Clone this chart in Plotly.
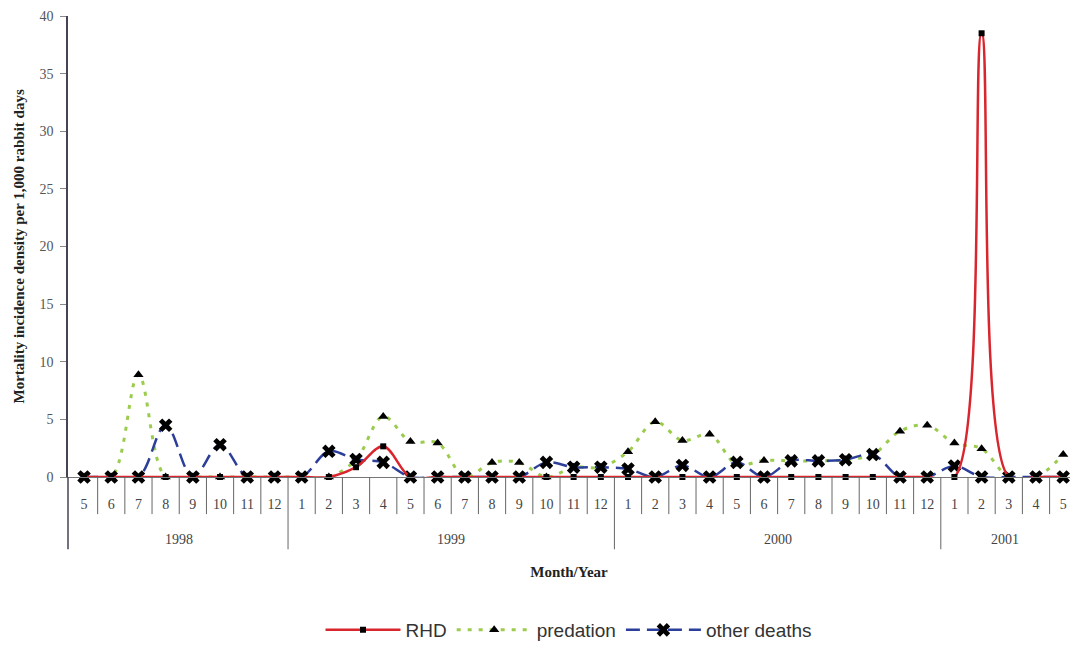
import plotly.graph_objects as go

years = ["1998"] * 8 + ["1999"] * 12 + ["2000"] * 12 + ["2001"] * 5
months = [str(m) for m in range(5, 13)] + [str(m) for m in range(1, 13)] * 2 + [str(m) for m in range(1, 6)]

rhd = [0, 0, 0, 0, 0, 0, 0, 0,
       0, 0, 0.85, 2.66, 0, 0, 0, 0, 0, 0, 0, 0,
       0, 0, 0, 0, 0, 0, 0, 0, 0, 0, 0, 0,
       0, 38.5, 0, 0, 0]
predation = [0, 0, 8.87, 0, 0, 0, 0, 0,
             0, 0, 1.5, 5.25, 3.08, 2.96, 0, 1.26, 1.26, 0, 0.85, 0.85,
             2.2, 4.8, 3.16, 3.7, 1.1, 1.44, 1.4, 1.4, 1.5, 1.95, 3.98, 4.49,
             2.94, 2.46, 0, 0, 1.95]
other = [0, 0, 0, 4.49, 0, 2.8, 0, 0,
         0, 2.23, 1.52, 1.27, 0, 0, 0, 0, 0, 1.27, 0.85, 0.85,
         0.7, 0, 1.0, 0, 1.27, 0, 1.4, 1.4, 1.5, 1.95, 0, 0,
         0.96, 0, 0, 0, 0]

idx = list(range(len(months)))
serif = "Liberation Serif, Times New Roman, serif"

fig = go.Figure()
fig.add_trace(go.Scatter(
    x=idx, y=predation, name="predation", mode="lines+markers", legendrank=2,
    line=dict(color="#9ccc4e", width=3, dash="4px,7px", shape="spline", smoothing=1),
    marker=dict(symbol="triangle-up", color="black", size=9),
    cliponaxis=False))
fig.add_trace(go.Scatter(
    x=idx, y=other, name="other deaths", mode="lines+markers", legendrank=3,
    line=dict(color="#2b3f9a", width=2.5, dash="14px,7px", shape="spline", smoothing=1),
    marker=dict(symbol="x", color="black", size=12),
    cliponaxis=False))
fig.add_trace(go.Scatter(
    x=idx, y=rhd, name="RHD", mode="lines+markers", legendrank=1,
    line=dict(color="#d9262e", width=2.5, shape="spline", smoothing=1),
    marker=dict(symbol="square", color="black", size=6),
    cliponaxis=False))

# category table below the axis
plot_w = 1070 - 68
plot_h = 649 - 16 - 161
month_bot = -38 / plot_h
year_bot = -74 / plot_h
shapes = []
for i in range(1, len(months)):
    boundary = years[i] != years[i - 1]
    shapes.append(dict(type="line", xref="x", yref="paper", x0=i - 0.5, x1=i - 0.5,
                       y0=0, y1=year_bot if boundary else month_bot,
                       line=dict(color="#666", width=1)))
shapes.append(dict(type="line", xref="paper", yref="paper", x0=0, x1=0, y0=0, y1=year_bot,
                   line=dict(color="#445", width=1.5)))

annotations = []
for yr in ["1998", "1999", "2000", "2001"]:
    pos = [i for i, y in enumerate(years) if y == yr]
    lo, hi = pos[0] - 0.5, pos[-1] + 0.5
    if yr == "2001":
        hi = min(hi, 36.25)
    annotations.append(dict(x=(lo + hi) / 2, y=-64 / plot_h, xref="x", yref="paper",
                            yanchor="middle", text=yr, showarrow=False,
                            font=dict(family=serif, size=14, color="#444")))
# y-axis title
annotations.append(dict(x=-50 / plot_w, y=0.5, xref="paper", yref="paper",
                        xanchor="center", yanchor="middle", textangle=-90, showarrow=False,
                        text="<b>Mortality incidence density per 1,000 rabbit days</b>",
                        font=dict(family=serif, size=15, color="#222")))

fig.update_layout(
    width=1070, height=649,
    margin=dict(l=68, r=0, t=16, b=161),
    paper_bgcolor="white", plot_bgcolor="white",
    showlegend=True,
    shapes=shapes, annotations=annotations,
    legend=dict(orientation="h", x=0.5, xanchor="center", y=-0.333, yanchor="middle",
                itemwidth=75,
                font=dict(family="Liberation Sans, Arial, sans-serif", size=19, color="#333")),
    xaxis=dict(
        range=[-0.59, 36.25], automargin=False,
        tickmode="array", tickvals=idx, ticktext=months,
        showline=True, linecolor="#777", linewidth=1,
        ticks="", ticklabelstandoff=14,
        tickfont=dict(family=serif, size=14, color="#444"),
        showgrid=False, zeroline=False,
        title=dict(text="<b>Month/Year</b>", font=dict(family=serif, size=15, color="#222"), standoff=55),
    ),
    yaxis=dict(
        range=[0, 40], dtick=5, automargin=False,
        showline=True, linecolor="#445", linewidth=1.5,
        ticks="outside", ticklen=6, tickcolor="#888", ticklabelstandoff=4,
        tickfont=dict(family=serif, size=14, color="#555"),
        showgrid=False, zeroline=False,
    ),
)

fig.write_html("out.html", config={"displayModeBar": False},
               post_script="document.body.style.margin='0';document.body.style.overflow='hidden';")
